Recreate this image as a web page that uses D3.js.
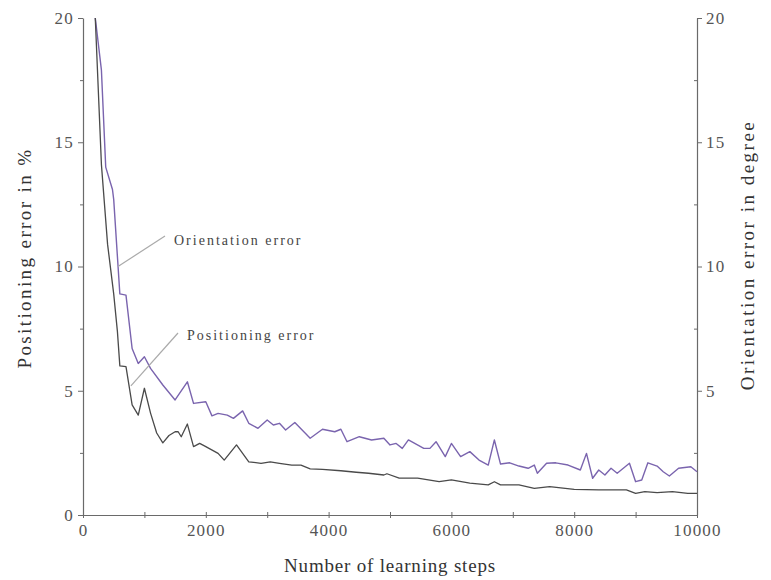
<!DOCTYPE html>
<html>
<head>
<meta charset="utf-8">
<script src="https://cdn.jsdelivr.net/npm/d3@7/dist/d3.min.js"></script>
<style>
  html, body { margin: 0; padding: 0; background: #fff; }
  svg { display: block; }
  text { font-family: "Liberation Serif", "Times New Roman", serif; }
</style>
</head>
<body>
<svg id="chart" width="771" height="580"></svg>
<script>
// ---- data ----
const posSteps  = [200,300,400,500,560,600,700,800,900,1000,1100,1200,1300,1400,1500,1550,1600,1700,1800,1900,2000,2200,2300,2500,2600,2700,2900,3050,3200,3400,3550,3700,3900,4200,4450,4650,4900,4950,5150,5450,5800,6000,6300,6600,6700,6800,7100,7350,7600,8000,8400,8850,9000,9150,9350,9600,9850,10000];
const posValues = [20,14.1,10.9,8.9,7.4,6.0,5.97,4.43,4.02,5.1,4.1,3.3,2.9,3.2,3.35,3.35,3.15,3.66,2.75,2.88,2.75,2.48,2.21,2.82,2.48,2.14,2.08,2.14,2.08,2.01,2.01,1.86,1.84,1.78,1.72,1.68,1.61,1.66,1.48,1.48,1.34,1.41,1.28,1.21,1.34,1.21,1.21,1.07,1.14,1.03,1.01,1.01,0.87,0.94,0.90,0.94,0.87,0.87];

const oriSteps  = [200,300,370,480,500,600,700,800,900,1000,1100,1300,1500,1700,1800,2000,2100,2200,2350,2450,2600,2700,2850,3000,3100,3200,3300,3450,3700,3900,4100,4200,4300,4500,4700,4900,5000,5100,5200,5300,5550,5650,5750,5900,6000,6150,6300,6450,6600,6700,6800,6950,7100,7250,7350,7400,7550,7700,7900,8100,8200,8300,8400,8500,8600,8700,8900,9000,9100,9200,9350,9450,9550,9700,9900,10000];
const oriValues = [20,17.9,14.0,13.1,12.7,8.9,8.85,6.7,6.1,6.37,5.9,5.23,4.63,5.36,4.49,4.56,3.99,4.09,4.02,3.89,4.19,3.69,3.49,3.82,3.62,3.69,3.42,3.72,3.09,3.45,3.35,3.45,2.95,3.15,3.02,3.09,2.82,2.88,2.68,3.02,2.68,2.68,2.95,2.35,2.88,2.35,2.55,2.21,2.01,3.02,2.05,2.10,1.97,1.88,2.01,1.68,2.08,2.10,2.01,1.81,2.48,1.48,1.81,1.61,1.88,1.68,2.08,1.34,1.41,2.10,1.97,1.74,1.57,1.88,1.94,1.74];

const xTicks = [0,2000,4000,6000,8000,10000];
const xMinor = [1000,3000,5000,7000,9000];
const yTicks = [0,5,10,15,20];
const yMinor = [2.5,7.5,12.5,17.5];

const xTitle = "Number of learning steps";
const yLeftTitle = "Positioning  error in %";
const yRightTitle = "Orientation error in degree";

// ---- layout ----
const svg = d3.select("#chart");
const x = d3.scaleLinear().domain([0,10000]).range([83,697]);
const y = d3.scaleLinear().domain([0,20]).range([515,18]);
const axisColor = "#6a6a6a";
const labelColor = "#555";

function styleAxis(g) {
  g.selectAll("path.domain").attr("stroke", axisColor).attr("stroke-width", 1.2);
  g.selectAll(".tick line").attr("stroke", axisColor).attr("stroke-width", 1);
  g.selectAll(".tick text").attr("fill", labelColor)
    .style("font-family", '"Liberation Serif", "Times New Roman", serif')
    .style("font-size", "17px").style("letter-spacing", "1.2px");
}

// minor ticks
const gxm = svg.append("g").attr("transform", `translate(0,${y(0)})`)
  .call(d3.axisBottom(x).tickValues(xMinor).tickSize(3).tickFormat(""));
gxm.select("path.domain").remove();
gxm.selectAll(".tick line").attr("stroke", axisColor).attr("y1", -3).attr("y2", 3);

const gx = svg.append("g").attr("transform", `translate(0,${y(0)})`)
  .call(d3.axisBottom(x).tickValues(xTicks).tickSize(4).tickSizeOuter(0).tickPadding(5).tickFormat(d3.format("d")));
gx.selectAll(".tick line").attr("y1", -3).attr("y2", 3);
styleAxis(gx);

const gyl = svg.append("g").attr("transform", `translate(${x(0)},0)`)
  .call(d3.axisLeft(y).tickValues(yTicks).tickSize(5).tickSizeOuter(0).tickPadding(4).tickFormat(d3.format("d")));
styleAxis(gyl);
const gylm = svg.append("g").attr("transform", `translate(${x(0)},0)`)
  .call(d3.axisLeft(y).tickValues(yMinor).tickSize(3).tickFormat(""));
gylm.select("path.domain").remove();
gylm.selectAll(".tick line").attr("stroke", axisColor);

const gyr = svg.append("g").attr("transform", `translate(${x(10000)},0)`)
  .call(d3.axisRight(y).tickValues(yTicks.filter(d => d > 0)).tickSize(5).tickSizeOuter(0).tickPadding(4).tickFormat(d3.format("d")));
styleAxis(gyr);
const gyrm = svg.append("g").attr("transform", `translate(${x(10000)},0)`)
  .call(d3.axisRight(y).tickValues(yMinor).tickSize(3).tickFormat(""));
gyrm.select("path.domain").remove();
gyrm.selectAll(".tick line").attr("stroke", axisColor).attr("x2", -3);

// lines
const line = d3.line().x(d => x(d[0])).y(d => y(d[1]));
const posData = posSteps.map((s,i) => [s, posValues[i]]);
const oriData = oriSteps.map((s,i) => [s, oriValues[i]]);

svg.append("path").datum(oriData).attr("d", line)
  .attr("fill", "none").attr("stroke", "#7a64ae").attr("stroke-width", 1.4).attr("stroke-linejoin", "round");
svg.append("path").datum(posData).attr("d", line)
  .attr("fill", "none").attr("stroke", "#4a4a4a").attr("stroke-width", 1.3).attr("stroke-linejoin", "round");

// annotations
svg.append("line").attr("x1", 165).attr("y1", 236).attr("x2", x(570)).attr("y2", y(10.0))
  .attr("stroke", "#aaa").attr("stroke-width", 1.2);
svg.append("text").attr("x", 174).attr("y", 245).text("Orientation error")
  .attr("fill", "#444").style("font-size", "14px").style("letter-spacing", "2px");

svg.append("line").attr("x1", 178).attr("y1", 333).attr("x2", x(780)).attr("y2", y(5.2))
  .attr("stroke", "#aaa").attr("stroke-width", 1.2);
svg.append("text").attr("x", 187).attr("y", 340).text("Positioning error")
  .attr("fill", "#444").style("font-size", "14px").style("letter-spacing", "2px");

// axis titles
svg.append("text").attr("x", 390).attr("y", 572).attr("text-anchor", "middle").text(xTitle)
  .attr("fill", "#333").style("font-size", "19px").style("letter-spacing", "0.8px");
svg.append("text").attr("transform", "translate(31,258) rotate(-90)").attr("text-anchor", "middle").text(yLeftTitle)
  .attr("fill", "#333").style("font-size", "19px").style("letter-spacing", "2.4px");
svg.append("text").attr("transform", "translate(754,255) rotate(-90)").attr("text-anchor", "middle").text(yRightTitle)
  .attr("fill", "#333").style("font-size", "19px").style("letter-spacing", "2.5px");
</script>
</body>
</html>
